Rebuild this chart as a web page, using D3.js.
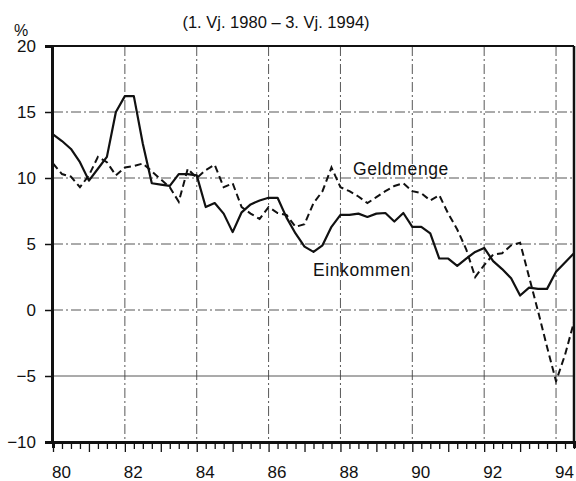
<!DOCTYPE html>
<html>
<head>
<meta charset="utf-8">
<script src="https://d3js.org/d3.v7.min.js"></script>
<style>
  body { margin: 0; background: #fff; }
  text { font-family: "Liberation Sans", Arial, sans-serif; fill: #111; }
</style>
</head>
<body>
<div id="chart"></div>
<script>
// quarterly growth rates, 1. Vj. 1980 - 3. Vj. 1994
const startYear = 1980;
const einkommen = [13.3, 12.8, 12.2, 11.2, 9.8, 10.7, 11.6, 15.0, 16.2, 16.2, 12.6, 9.6, 9.5, 9.4, 10.3, 10.3,
    10.2, 7.8, 8.1, 7.3, 5.9, 7.4, 8.0, 8.3, 8.5, 8.5, 7.0, 5.8, 4.8, 4.4, 4.9, 6.3, 7.2, 7.2, 7.3, 7.05,
    7.3, 7.35, 6.7, 7.35, 6.3, 6.3, 5.8, 3.9, 3.9, 3.35, 3.9, 4.4, 4.7, 3.7, 3.1, 2.4, 1.1, 1.7, 1.6, 1.6,
    2.9, 3.6, 4.3];
const geldmenge = [11.1, 10.3, 10.1, 9.3, 10.2, 11.6, 11.2, 10.2, 10.8, 10.9, 11.1, 10.5, 9.9, 9.3, 8.2, 10.7,
    10.0, 10.6, 11.0, 9.3, 9.6, 7.8, 7.3, 6.9, 7.8, 7.35, 7.2, 6.3, 6.5, 8.1, 9.0, 10.8, 9.3, 9.0, 8.6, 8.1,
    8.55, 9.0, 9.4, 9.6, 9.0, 8.85, 8.3, 8.7, 7.3, 6.1, 4.6, 2.5, 3.4, 4.2, 4.3, 4.9, 5.1, 2.5, -0.1, -2.8,
    -5.4, -3.4, -0.9];
const yTicks = [-10, -5, 0, 5, 10, 15, 20];
const xLabels = [1980, 1982, 1984, 1986, 1988, 1990, 1992, 1994];

const svg = d3.select('#chart').append('svg')
    .attr('width', 576)
    .attr('height', 481);

const x = d3.scaleLinear().domain([1980, 1994.5]).range([53, 574]);
const y = d3.scaleLinear().domain([-10, 20]).range([442, 46]);

const t = (d, i) => startYear + i / 4;

// subtitle
svg.append('text')
    .attr('x', 276).attr('y', 28)
    .attr('text-anchor', 'middle')
    .style('font-size', '16.5px')
    .text('(1. Vj. 1980 \u2013 3. Vj. 1994)');

svg.append('text')
    .attr('x', 14).attr('y', 36)
    .style('font-size', '16px')
    .text('%');

// grid
const grid = svg.append('g');
grid.selectAll('.hgrid')
    .data(yTicks.filter(d => d > -10 && d < 20))
    .enter().append('line')
    .attr('x1', x(1980)).attr('x2', x(1994.5))
    .attr('y1', d => y(d)).attr('y2', d => y(d))
    .attr('stroke', '#444')
    .attr('stroke-width', 0.9)
    .attr('stroke-dasharray', d => d === -5 ? null : '10,3,2,3');

grid.selectAll('.vgrid')
    .data(xLabels.slice(1))
    .enter().append('line')
    .attr('x1', d => x(d)).attr('x2', d => x(d))
    .attr('y1', y(20)).attr('y2', y(-10))
    .attr('stroke', '#444')
    .attr('stroke-width', 0.9)
    .attr('stroke-dasharray', '10,3,2,3');

// lines
const line = d3.line().x((d, i) => x(t(d, i))).y(d => y(d));

svg.append('path')
    .datum(geldmenge)
    .attr('d', line)
    .attr('fill', 'none')
    .attr('stroke', '#111')
    .attr('stroke-width', 2)
    .attr('stroke-dasharray', '7,4');

svg.append('path')
    .datum(einkommen)
    .attr('d', line)
    .attr('fill', 'none')
    .attr('stroke', '#111')
    .attr('stroke-width', 2.2)
    .attr('stroke-linejoin', 'round');

// frame
svg.append('line')
    .attr('x1', x(1980) - 1).attr('x2', x(1994.5))
    .attr('y1', y(20)).attr('y2', y(20))
    .attr('stroke', '#111').attr('stroke-width', 2);
svg.append('line')
    .attr('x1', x(1994.5)).attr('x2', x(1994.5))
    .attr('y1', y(20)).attr('y2', y(-10))
    .attr('stroke', '#111').attr('stroke-width', 2.5);

// y axis
const yAxis = svg.append('g')
    .attr('transform', 'translate(' + (x(1980) - 1) + ',0)')
    .call(d3.axisLeft(y).tickValues(yTicks).tickSize(7).tickPadding(9)
        .tickFormat(d => d < 0 ? '\u2212' + Math.abs(d) : d));
yAxis.select('.domain').attr('stroke', '#111').attr('stroke-width', 3);
yAxis.selectAll('.tick line').attr('stroke', '#111').attr('stroke-width', 1.5);
yAxis.selectAll('.tick text').style('font-size', '17px').attr('fill', '#111');

// x axis with quarterly ticks
const quarters = d3.range(0, 59).map(i => startYear + i / 4);
const xAxis = svg.append('g')
    .attr('transform', 'translate(0,' + y(-10) + ')')
    .call(d3.axisBottom(x).tickValues(quarters).tickSize(6).tickFormat(''));
xAxis.select('.domain').attr('stroke', '#111').attr('stroke-width', 3);
xAxis.selectAll('.tick line')
    .attr('stroke', '#111')
    .attr('stroke-width', 1.3)
    .attr('y2', d => Number.isInteger(d) ? 10 : 7);

svg.selectAll('.xlabel')
    .data(xLabels)
    .enter().append('text')
    .attr('x', d => x(d) - 1)
    .attr('y', 478)
    .style('font-size', '17px')
    .text(d => String(d).slice(2));

// series labels
svg.append('text')
    .attr('x', 353).attr('y', 175)
    .style('font-size', '17.5px')
    .style('letter-spacing', '0.6px')
    .text('Geldmenge');
svg.append('text')
    .attr('x', 313).attr('y', 276)
    .style('font-size', '17.5px')
    .style('letter-spacing', '0.6px')
    .text('Einkommen');
</script>
</body>
</html>
